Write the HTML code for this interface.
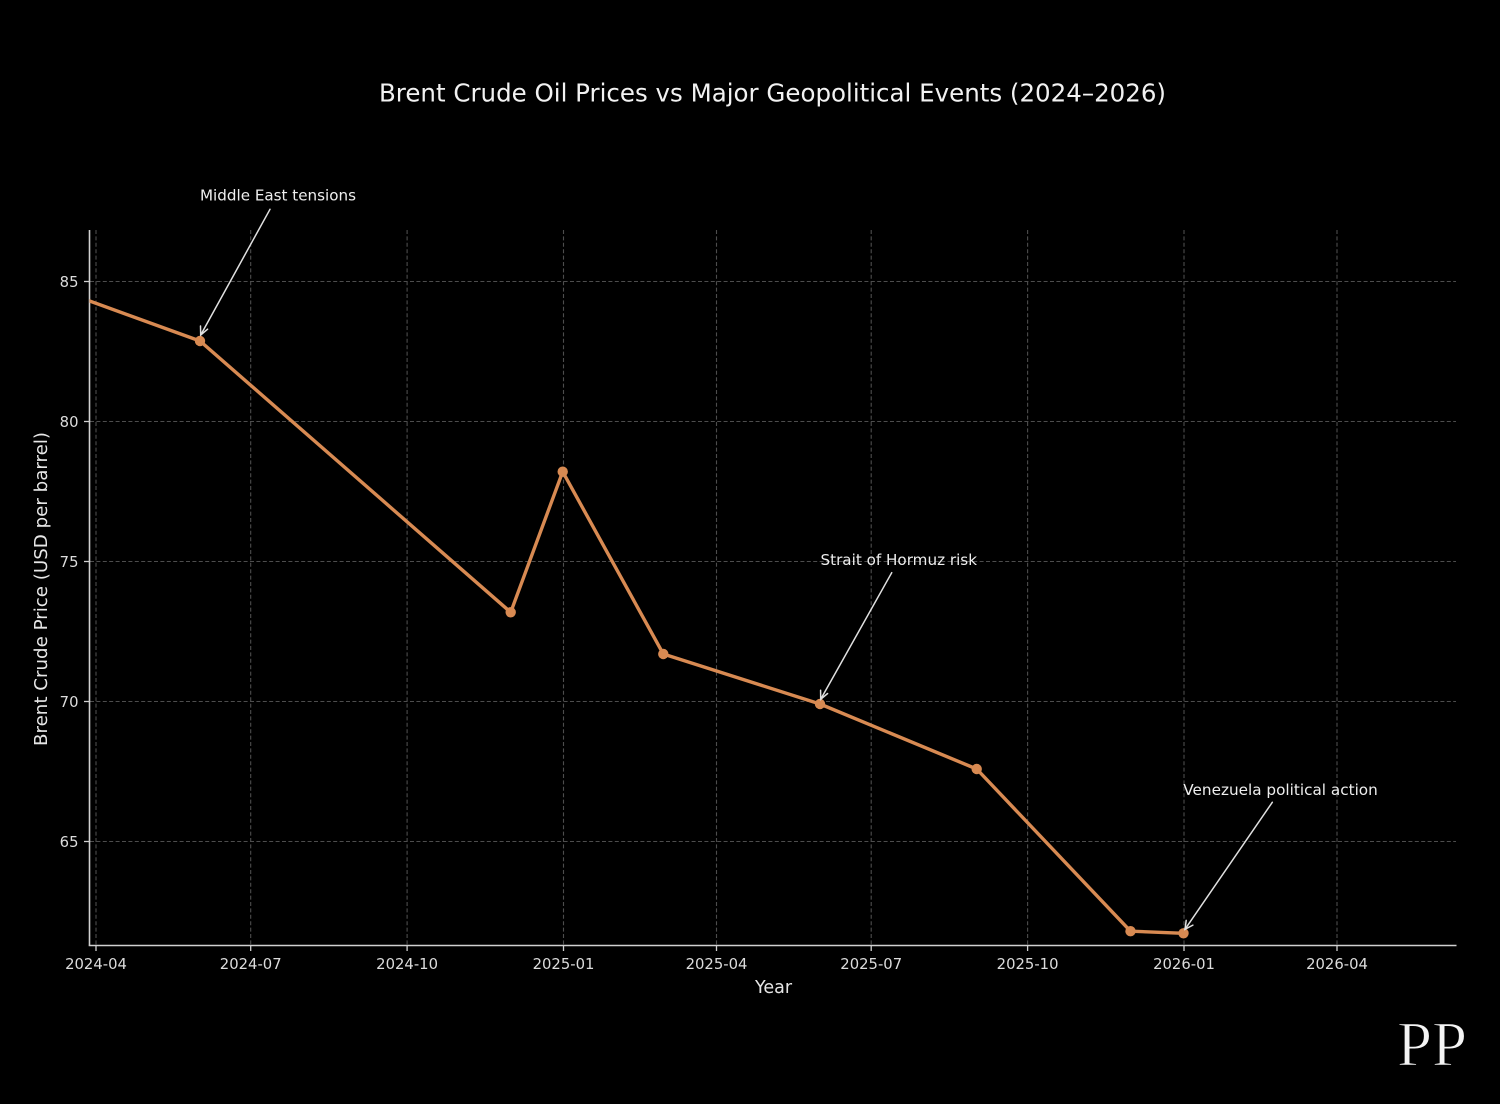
<!DOCTYPE html>
<html>
<head>
<meta charset="utf-8">
<style>
html,body{margin:0;padding:0;background:#000;}
svg{display:block;}
text{font-family:"DejaVu Sans","Liberation Sans",sans-serif;}
</style>
</head>
<body>
<svg width="1500" height="1104" viewBox="0 0 1500 1104" xmlns="http://www.w3.org/2000/svg">
<rect width="1500" height="1104" fill="#000"/>
<defs>
<clipPath id="plot"><rect x="89.5" y="230" width="1367" height="716"/></clipPath>
</defs>

<!-- Title -->
<text x="772.5" y="101.5" font-size="24.5" fill="#f2f2f2" text-anchor="middle" textLength="787" lengthAdjust="spacingAndGlyphs">Brent Crude Oil Prices vs Major Geopolitical Events (2024–2026)</text>

<!-- Grid -->
<g stroke="#4d4d4d" stroke-width="1.1" stroke-dasharray="4,2.4" fill="none">
<line x1="96" y1="230" x2="96" y2="945"/>
<line x1="250.7" y1="230" x2="250.7" y2="945"/>
<line x1="407.1" y1="230" x2="407.1" y2="945"/>
<line x1="563.5" y1="230" x2="563.5" y2="945"/>
<line x1="716.5" y1="230" x2="716.5" y2="945"/>
<line x1="871.2" y1="230" x2="871.2" y2="945"/>
<line x1="1027.6" y1="230" x2="1027.6" y2="945"/>
<line x1="1184" y1="230" x2="1184" y2="945"/>
<line x1="1337" y1="230" x2="1337" y2="945"/>
<line x1="90" y1="281.5" x2="1456" y2="281.5"/>
<line x1="90" y1="421.5" x2="1456" y2="421.5"/>
<line x1="90" y1="561.5" x2="1456" y2="561.5"/>
<line x1="90" y1="701.5" x2="1456" y2="701.5"/>
<line x1="90" y1="841.5" x2="1456" y2="841.5"/>
</g>

<!-- Spines -->
<g stroke="#d0d0d0" stroke-width="1.6" fill="none">
<line x1="89.5" y1="230" x2="89.5" y2="945.5"/>
<line x1="88.7" y1="945.5" x2="1456.5" y2="945.5"/>
</g>

<!-- Ticks -->
<g stroke="#d0d0d0" stroke-width="1.3">
<line x1="96" y1="945.5" x2="96" y2="951"/>
<line x1="250.7" y1="945.5" x2="250.7" y2="951"/>
<line x1="407.1" y1="945.5" x2="407.1" y2="951"/>
<line x1="563.5" y1="945.5" x2="563.5" y2="951"/>
<line x1="716.5" y1="945.5" x2="716.5" y2="951"/>
<line x1="871.2" y1="945.5" x2="871.2" y2="951"/>
<line x1="1027.6" y1="945.5" x2="1027.6" y2="951"/>
<line x1="1184" y1="945.5" x2="1184" y2="951"/>
<line x1="1337" y1="945.5" x2="1337" y2="951"/>
<line x1="84" y1="281.5" x2="89.5" y2="281.5"/>
<line x1="84" y1="421.5" x2="89.5" y2="421.5"/>
<line x1="84" y1="561.5" x2="89.5" y2="561.5"/>
<line x1="84" y1="701.5" x2="89.5" y2="701.5"/>
<line x1="84" y1="841.5" x2="89.5" y2="841.5"/>
</g>

<!-- X tick labels -->
<g font-size="14.8" fill="#dcdcdc" text-anchor="middle">
<text x="96" y="969">2024-04</text>
<text x="250.7" y="969">2024-07</text>
<text x="407.1" y="969">2024-10</text>
<text x="563.5" y="969">2025-01</text>
<text x="716.5" y="969">2025-04</text>
<text x="871.2" y="969">2025-07</text>
<text x="1027.6" y="969">2025-10</text>
<text x="1184" y="969">2026-01</text>
<text x="1337" y="969">2026-04</text>
</g>

<!-- Y tick labels -->
<g font-size="14.8" fill="#dcdcdc" text-anchor="end">
<text x="78.5" y="287">85</text>
<text x="78.5" y="427">80</text>
<text x="78.5" y="567">75</text>
<text x="78.5" y="707">70</text>
<text x="78.5" y="847">65</text>
</g>

<!-- Axis labels -->
<text x="773.5" y="993" font-size="17.5" fill="#e6e6e6" text-anchor="middle">Year</text>
<text transform="translate(47,589) rotate(-90)" x="0" y="0" font-size="17.5" fill="#e6e6e6" text-anchor="middle" textLength="314" lengthAdjust="spacingAndGlyphs">Brent Crude Price (USD per barrel)</text>

<!-- Data line -->
<g clip-path="url(#plot)">
<polyline fill="none" stroke="#d88a52" stroke-width="3.4" stroke-linejoin="round" stroke-linecap="round"
points="70,293.9 200,341 510.7,612.3 562.7,471.7 663.3,654 820,704 976.7,769 1130.5,931.2 1183.5,933.3"/>
</g>
<g fill="#d88a52">
<circle cx="200" cy="341" r="5.2"/>
<circle cx="510.7" cy="612.3" r="5.2"/>
<circle cx="562.7" cy="471.7" r="5.2"/>
<circle cx="663.3" cy="654" r="5.2"/>
<circle cx="820" cy="704" r="5.2"/>
<circle cx="976.7" cy="769" r="5.2"/>
<circle cx="1130.5" cy="931.2" r="5.2"/>
<circle cx="1183.5" cy="933.3" r="5.2"/>
</g>

<!-- Annotations -->
<g stroke="#e0e0e0" stroke-width="1.5" fill="none" stroke-linecap="round">
<line x1="270" y1="209.3" x2="200.7" y2="335"/>
<polyline points="200.5,326 200.7,335 207.6,329.2"/>
<line x1="891.7" y1="572.7" x2="820.7" y2="699.3"/>
<polyline points="820.6,690.3 820.7,699.3 827.6,693.5"/>
<line x1="1272.3" y1="802.3" x2="1185" y2="929.3"/>
<polyline points="1186.2,920.4 1185,929.3 1192.9,925.1"/>
</g>
<g font-size="15" fill="#eeeeee">
<text x="200" y="200.7" textLength="156" lengthAdjust="spacingAndGlyphs">Middle East tensions</text>
<text x="820.5" y="565" textLength="156.5" lengthAdjust="spacingAndGlyphs">Strait of Hormuz risk</text>
<text x="1183.3" y="795" textLength="194.5" lengthAdjust="spacingAndGlyphs">Venezuela political action</text>
</g>

<!-- Logo -->
<text x="1397" y="1065.5" font-size="64" fill="#f4f4f4" textLength="70" lengthAdjust="spacingAndGlyphs" style="font-family:'Liberation Serif',serif;font-weight:normal;">PP</text>
<text x="1397" y="1065.5" font-size="64" fill="none" stroke="#000" stroke-width="1.1" textLength="70" lengthAdjust="spacingAndGlyphs" style="font-family:'Liberation Serif',serif;font-weight:normal;">PP</text>
</svg>
</body>
</html>
